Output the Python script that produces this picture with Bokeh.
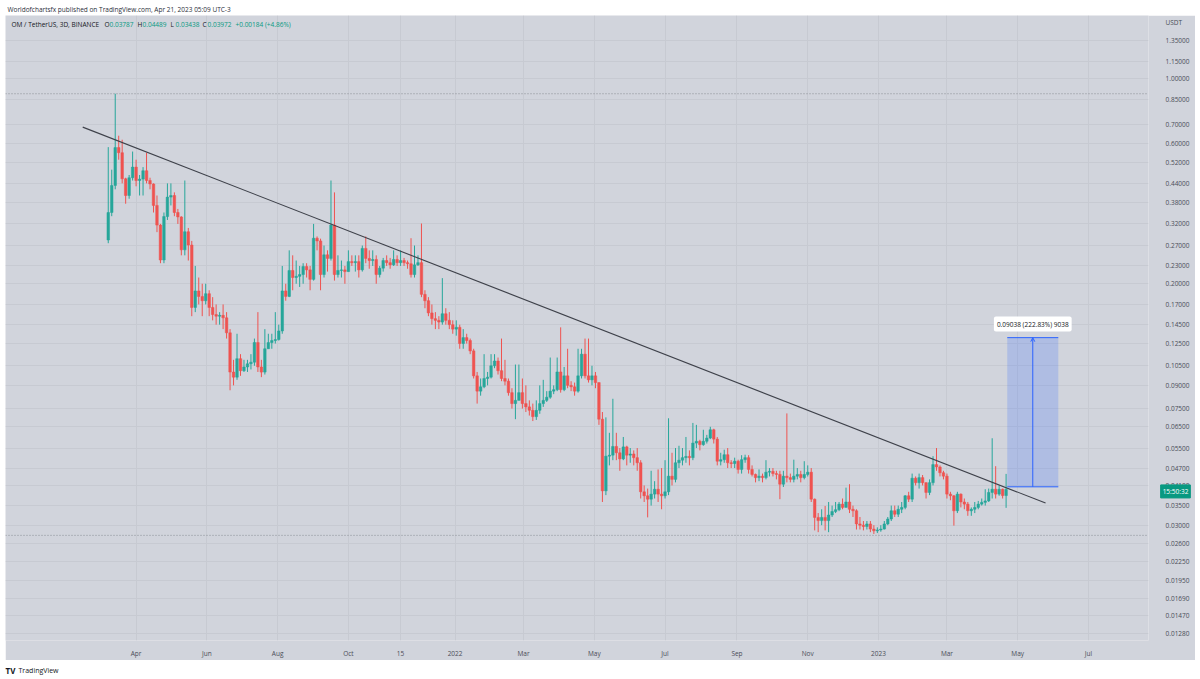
import numpy as np
import pandas as pd
from bokeh.plotting import figure
from bokeh.models import (Range1d, FixedTicker, Label, ColumnDataSource, Spacer,
                          CustomJSTickFormatter, Arrow, OpenHead)
from bokeh.layouts import column, row
from bokeh.embed import file_html
from bokeh.resources import INLINE

# ---------------- data (3D candles, OM / TetherUS, Binance) ----------------
first_date = "2021-03-08"
first_open = 0.282
closes = [
    0.35, 0.433, 0.583, 0.56, 0.456, 0.40, 0.46, 0.50, 0.45, 0.455,
    0.486, 0.45, 0.438, 0.37, 0.317, 0.241, 0.339, 0.395, 0.40, 0.35,
    0.338, 0.261, 0.301, 0.271, 0.166, 0.189, 0.181, 0.175, 0.185, 0.166,
    0.157, 0.155, 0.156, 0.153, 0.136, 0.0999, 0.096, 0.111, 0.101, 0.104,
    0.1066, 0.108, 0.126, 0.104, 0.0999, 0.120, 0.126, 0.128, 0.129, 0.138,
    0.189, 0.181, 0.222, 0.21, 0.212, 0.215, 0.229, 0.223, 0.207, 0.286,
    0.28, 0.215, 0.251, 0.244, 0.317, 0.215, 0.222, 0.223, 0.220, 0.238,
    0.236, 0.238, 0.223, 0.264, 0.244, 0.240, 0.242, 0.215, 0.226, 0.240,
    0.236, 0.232, 0.242, 0.236, 0.240, 0.236, 0.234, 0.215, 0.232, 0.236,
    0.184, 0.175, 0.159, 0.152, 0.150, 0.148, 0.158, 0.150, 0.145, 0.140,
    0.142, 0.125, 0.131, 0.128, 0.118, 0.097, 0.086, 0.089, 0.095, 0.096,
    0.105, 0.109, 0.101, 0.095, 0.093, 0.085, 0.078, 0.080, 0.085, 0.078,
    0.076, 0.074, 0.0704, 0.074, 0.078, 0.080, 0.082, 0.086, 0.087, 0.100,
    0.087, 0.097, 0.090, 0.089, 0.086, 0.097, 0.115, 0.097, 0.094, 0.097,
    0.092, 0.069, 0.0393, 0.0516, 0.052, 0.0557, 0.053, 0.0505, 0.0555, 0.052,
    0.0525, 0.051, 0.049, 0.039, 0.0378, 0.0368, 0.0383, 0.0398, 0.0383, 0.0378,
    0.039, 0.0441, 0.043, 0.049, 0.050, 0.051, 0.0515, 0.051, 0.0572, 0.058,
    0.0565, 0.058, 0.0595, 0.0635, 0.059, 0.0496, 0.0502, 0.0522, 0.049, 0.0487,
    0.0496, 0.0465, 0.0502, 0.051, 0.0465, 0.0447, 0.0436, 0.0441, 0.0436, 0.0455,
    0.0458, 0.045, 0.0447, 0.0414, 0.0441, 0.0436, 0.043, 0.0441, 0.0447, 0.0436,
    0.0447, 0.0455, 0.0368, 0.0319, 0.0311, 0.0319, 0.0311, 0.0325, 0.0334, 0.0339,
    0.0354, 0.0345, 0.036, 0.0340, 0.0336, 0.0303, 0.0300, 0.0297, 0.0303, 0.0291,
    0.0287, 0.0289, 0.0291, 0.0303, 0.0315, 0.0336, 0.0327, 0.0340, 0.0345, 0.0378,
    0.0368, 0.0434, 0.0419, 0.0436, 0.0419, 0.0388, 0.0419, 0.0483, 0.0474, 0.0453,
    0.0441, 0.0383, 0.0378, 0.0336, 0.0383, 0.036, 0.0354, 0.0336, 0.0340, 0.0345,
    0.0354, 0.0359, 0.0363, 0.0388, 0.0398, 0.0383, 0.0398, 0.03787, 0.03972,
]
highs = [
    0.585, 0.49, 0.89, 0.64, 0.62, 0.46, 0.47, 0.565, 0.53, 0.47,
    0.50, 0.56, 0.46, 0.44, 0.40, 0.32, 0.35, 0.44, 0.44, 0.41,
    0.36, 0.34, 0.45, 0.31, 0.28, 0.23, 0.21, 0.20, 0.20, 0.19,
    0.18, 0.17, 0.16, 0.17, 0.16, 0.14, 0.11, 0.135, 0.115, 0.11,
    0.11, 0.115, 0.13, 0.16, 0.11, 0.14, 0.135, 0.135, 0.16, 0.145,
    0.23, 0.20, 0.26, 0.25, 0.24, 0.23, 0.235, 0.235, 0.23, 0.32,
    0.29, 0.285, 0.27, 0.26, 0.45, 0.41, 0.25, 0.24, 0.23, 0.26,
    0.25, 0.25, 0.25, 0.27, 0.29, 0.26, 0.26, 0.25, 0.23, 0.245,
    0.25, 0.245, 0.26, 0.25, 0.26, 0.245, 0.24, 0.286, 0.27, 0.25,
    0.321, 0.19, 0.18, 0.17, 0.16, 0.155, 0.209, 0.165, 0.16, 0.15,
    0.15, 0.145, 0.14, 0.135, 0.13, 0.12, 0.10, 0.095, 0.115, 0.10,
    0.115, 0.115, 0.112, 0.13, 0.11, 0.095, 0.088, 0.106, 0.106, 0.095,
    0.09, 0.08, 0.078, 0.08, 0.09, 0.094, 0.086, 0.112, 0.09, 0.112,
    0.142, 0.104, 0.12, 0.093, 0.092, 0.12, 0.12, 0.13, 0.13, 0.105,
    0.10, 0.092, 0.073, 0.07, 0.062, 0.081, 0.062, 0.055, 0.06, 0.056,
    0.055, 0.054, 0.055, 0.05, 0.041, 0.04, 0.046, 0.0424, 0.0465, 0.047,
    0.05, 0.0695, 0.053, 0.055, 0.056, 0.055, 0.06, 0.054, 0.067, 0.066,
    0.0587, 0.0635, 0.061, 0.065, 0.064, 0.06, 0.053, 0.0543, 0.055, 0.05,
    0.051, 0.0502, 0.052, 0.0522, 0.052, 0.048, 0.045, 0.0465, 0.045, 0.05,
    0.047, 0.047, 0.046, 0.046, 0.046, 0.0722, 0.045, 0.0502, 0.047, 0.046,
    0.0496, 0.048, 0.047, 0.037, 0.033, 0.034, 0.0349, 0.036, 0.035, 0.036,
    0.036, 0.037, 0.0403, 0.0414, 0.035, 0.034, 0.032, 0.031, 0.031, 0.031,
    0.030, 0.0295, 0.030, 0.031, 0.032, 0.035, 0.035, 0.035, 0.036, 0.038,
    0.039, 0.045, 0.044, 0.045, 0.0445, 0.042, 0.043, 0.0516, 0.0550, 0.048,
    0.046, 0.045, 0.039, 0.038, 0.039, 0.0385, 0.037, 0.036, 0.0345, 0.036,
    0.0363, 0.037, 0.0398, 0.040, 0.0594, 0.0477, 0.041, 0.040, 0.04489,
]
lows = [
    0.275, 0.34, 0.42, 0.53, 0.44, 0.375, 0.39, 0.45, 0.43, 0.40,
    0.40, 0.44, 0.42, 0.35, 0.30, 0.235, 0.235, 0.33, 0.37, 0.34,
    0.32, 0.25, 0.25, 0.24, 0.155, 0.16, 0.17, 0.155, 0.17, 0.155,
    0.15, 0.145, 0.145, 0.14, 0.13, 0.0866, 0.09, 0.094, 0.097, 0.10,
    0.10, 0.102, 0.105, 0.10, 0.096, 0.098, 0.12, 0.12, 0.125, 0.128,
    0.135, 0.175, 0.18, 0.19, 0.20, 0.195, 0.20, 0.21, 0.19, 0.205,
    0.26, 0.19, 0.21, 0.22, 0.24, 0.205, 0.21, 0.21, 0.20, 0.22,
    0.23, 0.22, 0.21, 0.22, 0.235, 0.225, 0.23, 0.20, 0.21, 0.22,
    0.23, 0.225, 0.23, 0.23, 0.23, 0.23, 0.225, 0.21, 0.21, 0.23,
    0.18, 0.165, 0.155, 0.145, 0.14, 0.14, 0.145, 0.145, 0.14, 0.135,
    0.133, 0.12, 0.12, 0.125, 0.115, 0.095, 0.078, 0.083, 0.088, 0.09,
    0.095, 0.103, 0.098, 0.093, 0.09, 0.083, 0.075, 0.069, 0.08, 0.075,
    0.073, 0.071, 0.068, 0.0686, 0.072, 0.076, 0.079, 0.081, 0.084, 0.086,
    0.085, 0.086, 0.088, 0.086, 0.083, 0.085, 0.095, 0.095, 0.092, 0.09,
    0.088, 0.066, 0.036, 0.038, 0.048, 0.05, 0.05, 0.046, 0.05, 0.048,
    0.049, 0.048, 0.046, 0.037, 0.036, 0.0319, 0.035, 0.037, 0.036, 0.034,
    0.037, 0.038, 0.041, 0.042, 0.047, 0.048, 0.049, 0.048, 0.05, 0.055,
    0.054, 0.056, 0.057, 0.059, 0.057, 0.048, 0.048, 0.049, 0.047, 0.047,
    0.047, 0.045, 0.045, 0.049, 0.045, 0.044, 0.042, 0.0424, 0.042, 0.043,
    0.044, 0.044, 0.043, 0.0368, 0.0405, 0.042, 0.042, 0.042, 0.043, 0.042,
    0.043, 0.044, 0.036, 0.0288, 0.0284, 0.030, 0.0288, 0.0284, 0.032, 0.033,
    0.0335, 0.034, 0.0345, 0.033, 0.032, 0.029, 0.029, 0.0288, 0.029, 0.0284,
    0.028, 0.0282, 0.0285, 0.029, 0.030, 0.031, 0.032, 0.032, 0.033, 0.034,
    0.036, 0.036, 0.041, 0.040, 0.041, 0.037, 0.038, 0.041, 0.046, 0.044,
    0.043, 0.037, 0.0365, 0.0299, 0.033, 0.0345, 0.034, 0.0323, 0.0323, 0.033,
    0.034, 0.035, 0.035, 0.036, 0.037, 0.037, 0.0378, 0.037, 0.03438,
]

price_ticks = [1.35, 1.15, 1.00, 0.85, 0.70, 0.60, 0.52, 0.44, 0.38, 0.32, 0.27,
               0.23, 0.20, 0.17, 0.145, 0.125, 0.105, 0.09, 0.075, 0.065, 0.055,
               0.047, 0.041, 0.035, 0.030, 0.026, 0.0225, 0.0195, 0.0169, 0.0147, 0.0128]
time_ticks = ["2021-04-01", "2021-06-01", "2021-08-01", "2021-10-01", "2021-11-15",
              "2022-01-01", "2022-03-01", "2022-05-01", "2022-07-01", "2022-09-01",
              "2022-11-01", "2023-01-01", "2023-03-01", "2023-05-01", "2023-07-01"]
time_labels = ["Apr", "Jun", "Aug", "Oct", "15", "2022", "Mar", "May", "Jul", "Sep",
               "Nov", "2023", "Mar", "May", "Jul"]

trend_dates = ["2021-02-14", "2023-05-25"]
trend_prices = [0.6846, 0.0357]
hline_prices = [0.89, 0.0277]
measure_dates = ["2023-04-22", "2023-06-05"]
measure_low, measure_high = 0.04056, 0.13094
measure_text = "0.09038 (222.83%) 9038"

header_text = "Worldofchartsfx published on TradingView.com, Apr 21, 2023 05:09 UTC-3"
symbol_text = "OM / TetherUS, 3D, BINANCE"
ohlc_parts = [("O", "0.03787"), ("H", "0.04489"), ("L", "0.03438"), ("C", "0.03972")]
change_text = "+0.00184 (+4.86%)"
countdown_text = "15:50:32"
currency_text = "USDT"

# ---------------- styling ----------------
BG = "#d1d4dc"
GRID = "#c7cad2"
UP = "#26a69a"
DOWN = "#ef5350"
TXT = "#131722"
AX_TXT = "#4a4d57"
FONT = "Open Sans"
FS = "6.5px"

# pixel calibration of the page (frame from x=5..1148, y=15..646)
REF_DATE = pd.Timestamp("2023-01-01")
REF_PX, PX_DAY = 878.0, 1.16

def X(px):
    return (REF_DATE + pd.Timedelta(days=(px - REF_PX) / PX_DAY)).value / 1e6

def Y(py):
    return float(np.exp((79.0 - py) / 128.5))

def ms(d):
    return pd.Timestamp(d).value / 1e6

# ---------------- main chart ----------------
dates = pd.date_range(first_date, periods=len(closes), freq="3D")
opens = [first_open] + closes[:-1]
up = [c >= o for o, c in zip(opens, closes)]
src = ColumnDataSource(dict(
    x=dates, h=highs, l=lows,
    top=np.maximum(opens, closes), bot=np.minimum(opens, closes),
    color=[UP if u else DOWN for u in up],
))

W_MAIN, H_MAIN = 1190, 645
p = figure(width=W_MAIN, height=H_MAIN, x_axis_type="datetime", y_axis_type="log",
           y_axis_location="right", output_backend="svg", toolbar_location=None,
           x_range=Range1d(X(5), X(1148)), y_range=Range1d(Y(646), Y(15)),
           min_border_left=0, min_border_top=0, min_border_right=47, min_border_bottom=14)
p.background_fill_color = BG
p.border_fill_color = BG
p.outline_line_color = None

# axes: price ticks plus the currency caption at the top of the price scale
usdt_price = Y(22)
p.yaxis.ticker = FixedTicker(ticks=price_ticks + [usdt_price])
p.ygrid.ticker = FixedTicker(ticks=price_ticks)
p.yaxis.formatter = CustomJSTickFormatter(args=dict(cap=currency_text), code="""
if (tick > 1.5) { return cap; }
return tick.toFixed(5);
""")
tick_ms = [ms(t) for t in time_ticks]
xt = FixedTicker(ticks=tick_ms)
p.xaxis.ticker = xt
p.xgrid.ticker = xt
p.xaxis.formatter = CustomJSTickFormatter(args=dict(t=tick_ms, lab=time_labels), code="""
let best = 0; let bd = Infinity;
for (let i = 0; i < t.length; i++) { const d = Math.abs(t[i] - tick); if (d < bd) { bd = d; best = i; } }
return lab[best];
""")
for ax in (p.xaxis[0], p.yaxis[0]):
    ax.axis_line_color = None
    ax.major_tick_line_color = None
    ax.minor_tick_line_color = None
    ax.major_label_text_font = FONT
    ax.major_label_text_font_size = FS
    ax.major_label_text_color = AX_TXT
p.yaxis.major_label_standoff = 11
p.xgrid.grid_line_color = GRID
p.ygrid.grid_line_color = GRID

# horizontal rays
for hp in hline_prices:
    p.line([X(5), X(1148)], [hp, hp], line_color="#8a8d96", line_width=1, line_dash="1 2")

# candles
body_w = 2.2 * 86400000
p.segment(x0="x", y0="l", x1="x", y1="h", color="color", line_width=1, source=src)
p.vbar(x="x", width=body_w, top="top", bottom="bot", fill_color="color",
       line_color="color", line_width=0.5, source=src)

# trend line
p.line([ms(d) for d in trend_dates], trend_prices, line_color="#3e414a", line_width=1.1)

# measurement (price range) box
m0, m1 = ms(measure_dates[0]), ms(measure_dates[1])
p.quad(left=[m0], right=[m1], bottom=[measure_low], top=[measure_high],
       fill_color="#2962ff", fill_alpha=0.2, line_color=None)
p.segment(x0=[m0, m0], y0=[measure_low, measure_high], x1=[m1, m1],
          y1=[measure_low, measure_high], line_color="#2962ff", line_width=1)
mid = (m0 + m1) / 2
p.add_layout(Arrow(end=OpenHead(size=4, line_color="#2962ff", line_width=1),
                   x_start=mid, y_start=measure_low, x_end=mid, y_end=measure_high,
                   line_color="#2962ff", line_width=1))
p.add_layout(Label(x=mid, y=Y(326.5), text=measure_text, text_font=FONT,
                   text_font_size=FS, text_color=TXT, text_align="center",
                   text_baseline="middle", background_fill_color="white",
                   background_fill_alpha=1.0, padding=3, border_radius=2))

# legend / symbol line
def lab(px, text, color, fs=FS, align="left"):
    p.add_layout(Label(x=X(px), y=Y(24.5), text=text, text_font=FONT, text_font_size=fs,
                       text_color=color, text_align=align, text_baseline="middle"))

lab(11, symbol_text, TXT)
xs_letters = [104, 137, 170, 202]
for (letter, val), xl in zip(ohlc_parts, xs_letters):
    lab(xl, letter, TXT)
    lab(xl + 5, val, "#089981")
lab(235, change_text, "#089981")

# countdown tag on the price scale: kept in a side panel (not clipped by the frame),
# placed next to the frame; the time axis is pulled back over it with a negative standoff
countdown = Label(x=X(1175), y=Y(495.5), text=countdown_text,
                  text_font=FONT, text_font_size=FS, text_color="white",
                  text_align="center", text_baseline="middle",
                  background_fill_color="#089981", background_fill_alpha=1.0, padding=2,
                  border_line_color="#089981", border_line_width=1)
xaxis = p.xaxis[0]
p.below = [countdown, xaxis]
xaxis.major_label_standoff = -11

# ---------------- header & footer ----------------
def blank(w, h):
    f = figure(width=w, height=h, x_range=Range1d(0, w), y_range=Range1d(h, 0),
               output_backend="svg", toolbar_location=None, min_border=0)
    f.axis.visible = False
    f.grid.visible = False
    f.outline_line_color = None
    f.background_fill_color = "white"
    f.border_fill_color = "white"
    return f

head = blank(1200, 15)
head.add_layout(Label(x=7, y=8.5, text=header_text, text_font=FONT, text_font_size=FS,
                      text_color="#2a2e39", text_baseline="middle"))

foot = blank(1200, 679 - 15 - H_MAIN)
foot.add_layout(Label(x=5, y=10, text="TV", text_font=FONT, text_font_size="8px",
                      text_font_style="bold", text_color="#131722", text_baseline="middle"))
foot.add_layout(Label(x=18, y=10, text="TradingView", text_font=FONT, text_font_size="7px",
                      text_color="#131722", text_baseline="middle"))

layout = column(head, row(Spacer(width=5, height=H_MAIN), p, Spacer(width=5, height=H_MAIN)), foot)

open("out.html", "w").write(file_html(layout, INLINE))
